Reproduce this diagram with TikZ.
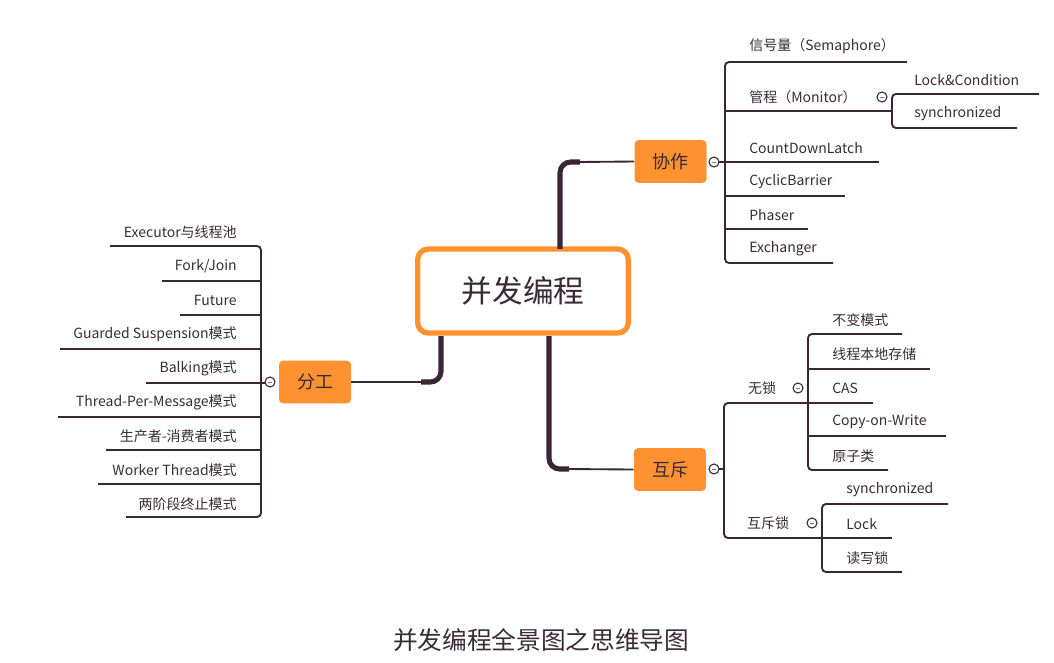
\documentclass[tikz,border=0pt]{standalone}
\usepackage{fontspec}
\setmainfont{Noto Sans CJK SC}
\definecolor{ln}{HTML}{3B2637}
\definecolor{og}{HTML}{FF9230}
\definecolor{tx}{HTML}{3A2A36}
\definecolor{mn}{HTML}{6A7AB0}
\begin{document}
\begin{tikzpicture}[x=0.75pt,y=-0.75pt,
  item/.style={font=\fontsize{10.5}{12}\selectfont,text=tx,inner sep=0pt},
  litem/.style={item,anchor=east},
  ritem/.style={item,anchor=west},
  thin/.style={draw=ln,line width=1.4pt,rounded corners=3pt},
  trunk/.style={draw=ln,line width=3.8pt,rounded corners=8pt},
  tbox/.style={fill=og,rounded corners=3pt,minimum width=54pt,minimum height=32pt,font=\fontsize{13.5}{15}\selectfont,text=tx},
  knob/.style={circle,draw=ln,fill=white,line width=0.8pt,minimum size=7.5pt,inner sep=0pt,
    path picture={\draw[mn,line width=0.6pt] ([xshift=-1.8pt]path picture bounding box.center) -- ([xshift=1.8pt]path picture bounding box.center);}}]
\useasboundingbox (0,0) rectangle (1054,662);
% center
\node[draw=og,line width=4pt,rounded corners=8pt,minimum width=158pt,minimum height=63pt,font=\fontsize{23}{26}\selectfont,text=tx] (c) at (523,291) {并发编程};
\node[tbox] (xz) at (670.5,161.5) {协作};
\node[tbox] (fg) at (315,382) {分工};
\node[tbox] (hc) at (670,469.5) {互斥};
% trunks
\draw[trunk] (560,249) -- (560,162) -- (580,162);
\draw[thin] (578,162) -- (xz.west);
\draw[trunk] (441,336) -- (441,382) -- (421,382);
\draw[thin] (423,382) -- (fg.east);
\draw[trunk] (549,336) -- (549,469) -- (569,469);
\draw[thin] (567,469) -- (hc.west);
% 协作 branch
\draw[thin] (907,62) -- (725,62) -- (725,263) -- (833,263);
\draw[thin] (714,162) -- (879,162);
\draw[thin] (725,111) -- (892,111);
\draw[thin] (725,196) -- (845,196);
\draw[thin] (725,229) -- (808,229);
\draw[thin] (1039,94) -- (892,94) -- (892,128) -- (1017,128);
\node[knob] (k1) at (714,162) {};
\node[knob] (k2) at (882,97) {};
\node[ritem] at (749,46) {信号量（Semaphore）};
\node[ritem] at (749,97) {管程（Monitor）};
\node[ritem] at (914,80) {Lock\&Condition};
\node[ritem] at (914,114) {synchronized};
\node[ritem] at (749,148) {CountDownLatch};
\node[ritem] at (749,182) {CyclicBarrier};
\node[ritem] at (749,215) {Phaser};
\node[ritem] at (749,249) {Exchanger};
% 分工 branch
\draw[thin] (110,246) -- (261,246) -- (261,517) -- (126,517);
\draw[thin] (162,281) -- (261,281);
\draw[thin] (180,315) -- (261,315);
\draw[thin] (60,349) -- (261,349);
\draw[thin] (146,383) -- (270,383);
\draw[thin] (58,417) -- (261,417);
\draw[thin] (106,450) -- (261,450);
\draw[thin] (98,484) -- (261,484);
\node[knob] (k3) at (270,382) {};
\node[litem] at (237,232) {Executor与线程池};
\node[litem] at (237,266) {Fork/Join};
\node[litem] at (237,300) {Future};
\node[litem] at (237,334) {Guarded Suspension模式};
\node[litem] at (237,368) {Balking模式};
\node[litem] at (237,402) {Thread-Per-Message模式};
\node[litem] at (237,436) {生产者-消费者模式};
\node[litem] at (237,470) {Worker Thread模式};
\node[litem] at (237,504) {两阶段终止模式};
% 互斥 branch
\draw[thin] (808,403) -- (724,403) -- (724,538) -- (822,538);
\draw[thin] (714,469) -- (724,469);
\draw[thin] (902,334) -- (808,334) -- (808,470) -- (888,470);
\draw[thin] (808,369) -- (930,369);
\draw[thin] (808,403) -- (873,403);
\draw[thin] (808,436) -- (946,436);
\draw[thin] (948,504) -- (822,504) -- (822,572) -- (902,572);
\draw[thin] (822,538) -- (892,538);
\node[knob] (k4) at (714,469) {};
\node[knob] (k5) at (798,388) {};
\node[knob] (k6) at (812,523) {};
\node[item] at (762,388) {无锁};
\node[item] at (768,523) {互斥锁};
\node[ritem] at (832,320) {不变模式};
\node[ritem] at (832,354) {线程本地存储};
\node[ritem] at (832,388) {CAS};
\node[ritem] at (832,422) {Copy-on-Write};
\node[ritem] at (832,456) {原子类};
\node[ritem] at (846,490) {synchronized};
\node[ritem] at (846,524) {Lock};
\node[ritem] at (846,558) {读写锁};
\node[font=\fontsize{18.5}{21}\selectfont,text=tx] (cap) at (541,640) {并发编程全景图之思维导图};
\end{tikzpicture}
\end{document}
